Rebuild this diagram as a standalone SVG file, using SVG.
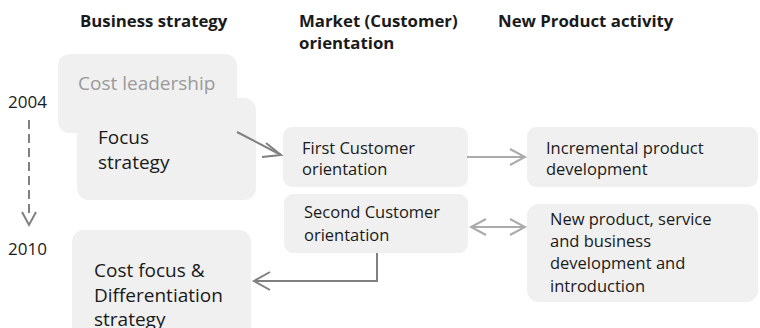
<svg xmlns="http://www.w3.org/2000/svg" width="760" height="328" viewBox="0 0 760 328">
<defs>
<style>
text{font-family:"Open Sans","Noto Sans","Liberation Sans",sans-serif;fill:#1a1a1a}
.h{font-weight:bold;font-size:16.8px}
.box{fill:#f0f0f0}
.big{font-size:19px}
.mid{font-size:16.5px}
.yr{font-size:17px}
.c1{fill:none;stroke:#808080;stroke-width:2}
.c2{fill:none;stroke:#ababab;stroke-width:2}
</style>
</defs>
<rect width="760" height="328" fill="#ffffff"/>
<g id="headers">
<text class="h" x="80" y="27">Business strategy</text>
<text class="h" x="299" y="27">Market (Customer)</text>
<text class="h" x="299" y="49">orientation</text>
<text class="h" x="498" y="27">New Product activity</text>
</g>
<g id="years">
<text class="yr" x="8" y="108">2004</text>
<text class="yr" x="8" y="255">2010</text>
</g>
<g id="cost-leadership">
<rect class="box" x="58" y="54" width="179" height="79" rx="12"/>
<text class="big" x="78" y="90" style="fill:#9a9a9a">Cost leadership</text>
</g>
<g id="focus">
<rect class="box" x="77" y="98" width="179" height="102" rx="12"/>
<text class="big" x="98" y="144">Focus</text>
<text class="big" x="98" y="169">strategy</text>
</g>
<g id="cost-focus">
<rect class="box" x="72" y="230" width="179" height="110" rx="12"/>
<text class="big" x="94" y="277">Cost focus &amp;</text>
<text class="big" x="94" y="302">Differentiation</text>
<text class="big" x="94" y="326">strategy</text>
</g>
<g id="first-customer">
<rect class="box" x="283" y="127" width="185" height="60" rx="9"/>
<text class="mid" x="302" y="154">First Customer</text>
<text class="mid" x="302" y="175">orientation</text>
</g>
<g id="second-customer">
<rect class="box" x="284" y="194" width="184" height="59" rx="9"/>
<text class="mid" x="304" y="218">Second Customer</text>
<text class="mid" x="304" y="241">orientation</text>
</g>
<g id="incremental">
<rect class="box" x="527" y="127" width="231" height="60" rx="9"/>
<text class="mid" x="546" y="154">Incremental product</text>
<text class="mid" x="546" y="175">development</text>
</g>
<g id="new-product">
<rect class="box" x="527" y="204" width="231" height="98" rx="12"/>
<text class="mid" x="550" y="225">New product, service</text>
<text class="mid" x="550" y="247">and business</text>
<text class="mid" x="550" y="269">development and</text>
<text class="mid" x="550" y="292">introduction</text>
</g>
<g id="connectors">
<line class="c1" x1="29" y1="120" x2="29" y2="216" stroke-dasharray="9,5"/>
<polyline class="c1" points="22,212 29,225 36,212"/>
<line class="c1" x1="237" y1="132" x2="281" y2="155"/>
<polyline class="c1" points="266,143 281,155 262,157"/>
<line class="c2" x1="467" y1="157" x2="525" y2="157"/>
<polyline class="c2" points="510,149 525,157 510,165"/>
<line class="c2" x1="471" y1="227" x2="525" y2="227"/>
<polyline class="c2" points="510,219 525,227 510,235"/>
<polyline class="c2" points="486,219 471,227 486,235"/>
<polyline class="c1" points="377,253 377,281 254,281"/>
<polyline class="c1" points="270,272 254,281 270,290"/>
</g>
</svg>
